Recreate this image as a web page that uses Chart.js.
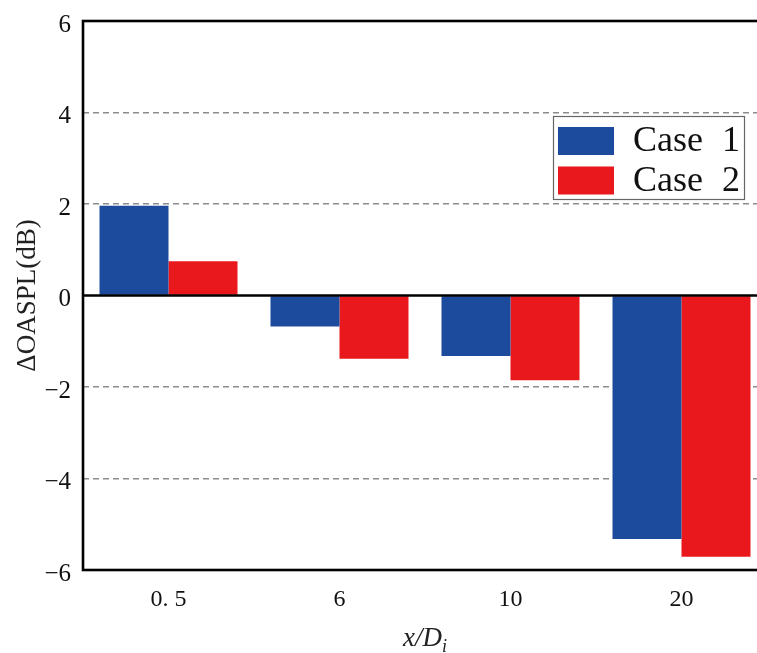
<!DOCTYPE html>
<html>
<head>
<meta charset="utf-8">
<script src="https://cdn.jsdelivr.net/npm/chart.js@4/dist/chart.umd.min.js"></script>
<style>
  html, body { margin: 0; padding: 0; background: #ffffff; overflow: hidden; }
  canvas { display: block; }
</style>
</head>
<body>
<canvas id="c" width="780" height="653" style="width:780px;height:653px"></canvas>
<script>
// Downstream positions x/Di and the change of overall sound pressure level (dB)
const categories = ['0. 5', '6', '10', '20'];
const case1 = [1.96, -0.68, -1.32, -5.32];
const case2 = [0.75, -1.38, -1.85, -5.71];
const seriesNames = ['Case 1', 'Case 2'];
const yTicks = [-6, -4, -2, 0, 2, 4, 6];

const BLUE = 'rgb(28,74,156)';
const RED = 'rgb(232,24,28)';
const SERIF = '"Liberation Serif", "DejaVu Serif", serif';

// frame, zero line, in-plot legend and the x-axis title
const decorations = {
  id: 'decorations',
  afterDatasetsDraw(chart) {
    const { ctx, chartArea: a, scales: { y } } = chart;
    ctx.save();
    ctx.strokeStyle = '#000';
    ctx.lineWidth = 2.6;
    ctx.setLineDash([]);
    const y0 = y.getPixelForValue(0);
    ctx.beginPath();
    ctx.moveTo(a.left, y0);
    ctx.lineTo(a.right, y0);
    ctx.stroke();
    ctx.strokeRect(a.left, a.top, a.right - a.left, a.bottom - a.top);
    ctx.restore();
  },
  afterDraw(chart) {
    const { ctx, chartArea: a } = chart;
    ctx.save();
    // legend box
    const bx = a.left + 470, by = a.top + 95, bw = 191, bh = 83;
    ctx.fillStyle = '#fff';
    ctx.fillRect(bx, by, bw, bh);
    ctx.strokeStyle = '#666';
    ctx.lineWidth = 1.2;
    ctx.strokeRect(bx + 0.5, by + 0.5, bw, bh);
    chart.data.datasets.forEach((ds, i) => {
      const cy = by + 25 + i * 39.5;
      ctx.fillStyle = ds.backgroundColor;
      ctx.fillRect(bx + 5, cy - 14, 56, 28);
      ctx.fillStyle = '#111';
      ctx.font = '36px ' + SERIF;
      ctx.textBaseline = 'middle';
      const parts = ds.label.split(' ');
      ctx.textAlign = 'left';
      ctx.fillText(parts[0], bx + 80, cy + 1);
      ctx.textAlign = 'right';
      ctx.fillText(parts.slice(1).join(' '), bx + bw - 4, cy + 1);
    });
    // x-axis title with subscript
    const cx = (a.left + a.right) / 2;
    const base = 646;
    ctx.fillStyle = '#222';
    ctx.textBaseline = 'alphabetic';
    ctx.textAlign = 'left';
    ctx.font = 'italic 27px ' + SERIF;
    const main = 'x/D';
    const wMain = ctx.measureText(main).width;
    ctx.font = 'italic 18px ' + SERIF;
    const wSub = ctx.measureText('i').width;
    const x0 = cx - (wMain + wSub) / 2;
    ctx.font = 'italic 27px ' + SERIF;
    ctx.fillText(main, x0, base);
    ctx.font = 'italic 18px ' + SERIF;
    ctx.fillText('i', x0 + wMain, base + 6);
    ctx.restore();
  }
};

new Chart(document.getElementById('c'), {
  type: 'bar',
  data: {
    labels: categories,
    datasets: [
      { label: seriesNames[0], data: case1, backgroundColor: BLUE, borderWidth: 0 },
      { label: seriesNames[1], data: case2, backgroundColor: RED, borderWidth: 0 }
    ]
  },
  options: {
    responsive: false,
    animation: false,
    devicePixelRatio: 1,
    layout: { padding: { top: 0, right: 13, bottom: 0, left: 0 } },
    datasets: { bar: { categoryPercentage: 0.807, barPercentage: 1.0 } },
    plugins: { legend: { display: false }, tooltip: { enabled: false } },
    scales: {
      x: {
        grid: { display: false, drawTicks: false },
        border: { display: false },
        ticks: { color: '#111', font: { family: SERIF, size: 24 }, padding: 15 },
        afterFit(s) { s.height = 83; s.paddingLeft = 0; s.paddingRight = 0; }
      },
      y: {
        min: -6, max: 6,
        afterBuildTicks(s) { s.ticks = yTicks.map(v => ({ value: v })); },
        grid: {
          drawTicks: false,
          lineWidth: 1.4,
          color: ctx => (ctx.tick && (ctx.tick.value === 0 || Math.abs(ctx.tick.value) === 6)) ? 'rgba(0,0,0,0)' : '#8c8c8c'
        },
        border: { display: false, dash: [6, 4] },
        ticks: {
          color: '#111',
          padding: 12,
          labelOffset: 4,
          font: { family: SERIF, size: 25 },
          callback: v => v < 0 ? '\u2212' + Math.abs(v) : String(v)
        },
        title: {
          display: true,
          text: '\u0394OASPL(dB)',
          color: '#222',
          font: { family: SERIF, size: 27 },
          padding: { top: 12, bottom: 0 }
        },
        afterFit(s) { s.width = 83; s.paddingTop = 21; s.paddingBottom = 0; }
      }
    }
  },
  plugins: [decorations]
});
</script>
</body>
</html>
